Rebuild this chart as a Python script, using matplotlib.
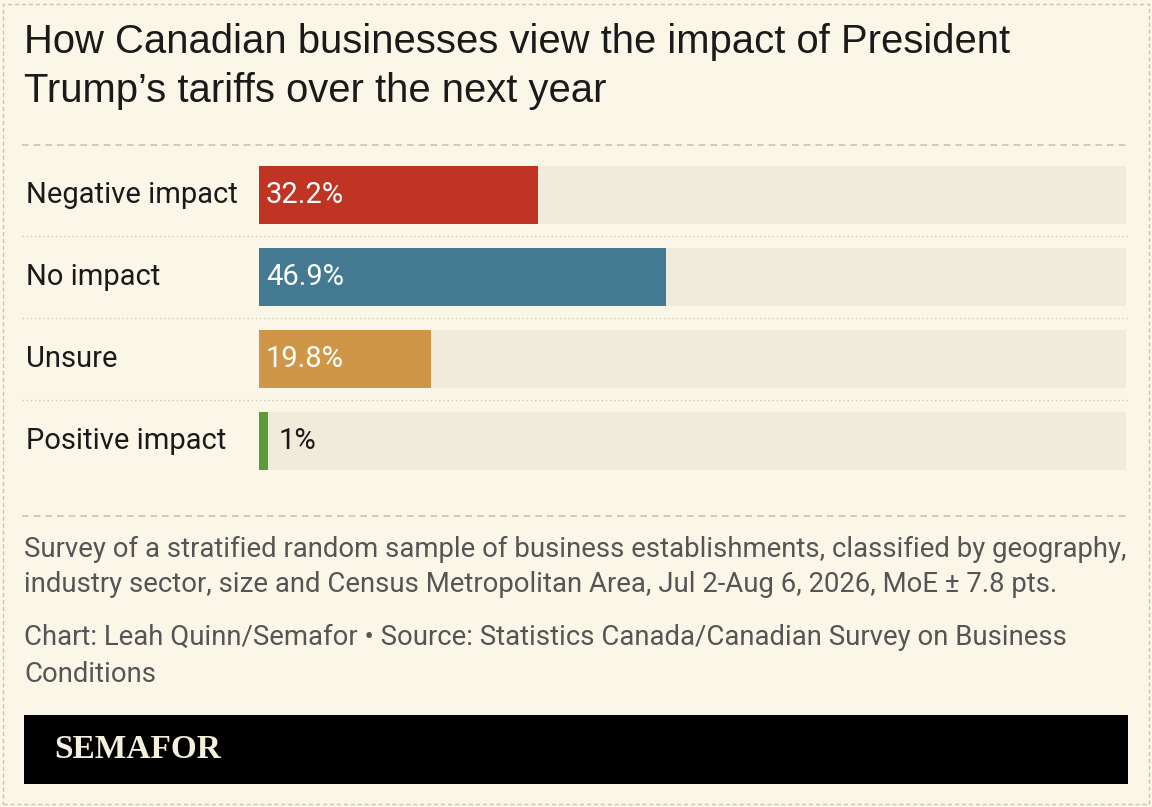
import matplotlib.pyplot as plt
import matplotlib.transforms as mtransforms
from matplotlib.patches import Rectangle

categories = ["Negative impact", "No impact", "Unsure", "Positive impact"]
values = [32.2, 46.9, 19.8, 1.0]
labels = ["32.2%", "46.9%", "19.8%", "1%"]
colors = ["#c03424", "#437a92", "#cf9648", "#5d9a3c"]

W, H = 1152, 807
bg = "#fbf7e8"
track = "#f1ebdb"

fig = plt.figure(figsize=(W / 100, H / 100), dpi=100, facecolor=bg)

def fx(px):
    return px / W

def fy(py):
    return 1 - py / H

# outer dashed border
fig.add_artist(Rectangle((fx(3), fy(804)), fx(1146), 1 - 7 / H, transform=fig.transFigure,
                         fill=False, ec="#c8c4b4", lw=1, ls=(0, (3, 2))))

title = ["How Canadian businesses view the impact of President", "Trump\u2019s tariffs over the next year"]
for y, t in zip([42, 91], title):
    fig.text(fx(24), fy(y), t, fontsize=28.8, family="Liberation Sans", color="#1a1a1a", va="center")

for y in [145, 516]:
    fig.add_artist(plt.Line2D([fx(22), fx(1128)], [fy(y), fy(y)], transform=fig.transFigure,
                              color="#c8c4b4", lw=1.2, ls=(0, (4, 3))))

ax = fig.add_axes([fx(259), fy(482), fx(1126 - 259), 328 / H])
ax.set_facecolor("none")
ypos = list(range(len(categories)))
ax.barh(ypos, [100] * len(values), height=58 / 82, color=track)
ax.barh(ypos, values, height=58 / 82, color=colors)
ax.set_xlim(0, 100)
ax.set_ylim(3.5, -0.5)
ax.axis("off")

blend = mtransforms.blended_transform_factory(fig.transFigure, ax.transData)
for i, (cat, v, lab) in enumerate(zip(categories, values, labels)):
    fig.text(fx(26), i, cat, transform=blend, fontsize=21, family="Roboto", color="#1a1a1a", va="center")
    tc = "white" if v > 5 else "#1a1a1a"
    ax.text(v + 1.2 if v < 5 else 0.8, i, lab, fontsize=21, family="Roboto", color=tc, va="center")
    if i < len(categories) - 1:
        fig.add_artist(plt.Line2D([fx(22), fx(1128)], [i + 0.5, i + 0.5], transform=blend,
                                  color="#cfcabb", lw=1, ls=(0, (1, 2))))

notes = ["Survey of a stratified random sample of business establishments, classified by geography,",
         "industry sector, size and Census Metropolitan Area, Jul 2-Aug 6, 2026, MoE \u00b1 7.8 pts.",
         "Chart: Leah Quinn/Semafor \u2022 Source: Statistics Canada/Canadian Survey on Business",
         "Conditions"]
for y, t in zip([549, 585, 637, 674], notes):
    fig.text(fx(24), fy(y), t, fontsize=19.8, family="Roboto", color="#555555", va="center")

fig.add_artist(Rectangle((fx(24), fy(784)), fx(1104), 69 / H, transform=fig.transFigure,
                         color="black", lw=0))
fig.text(fx(54), fy(750), "SEMAFOR", fontsize=24, family="Liberation Serif", weight="bold",
         color="#f5f0dc", va="center")

fig.savefig("out.png", dpi=100, facecolor=bg)
